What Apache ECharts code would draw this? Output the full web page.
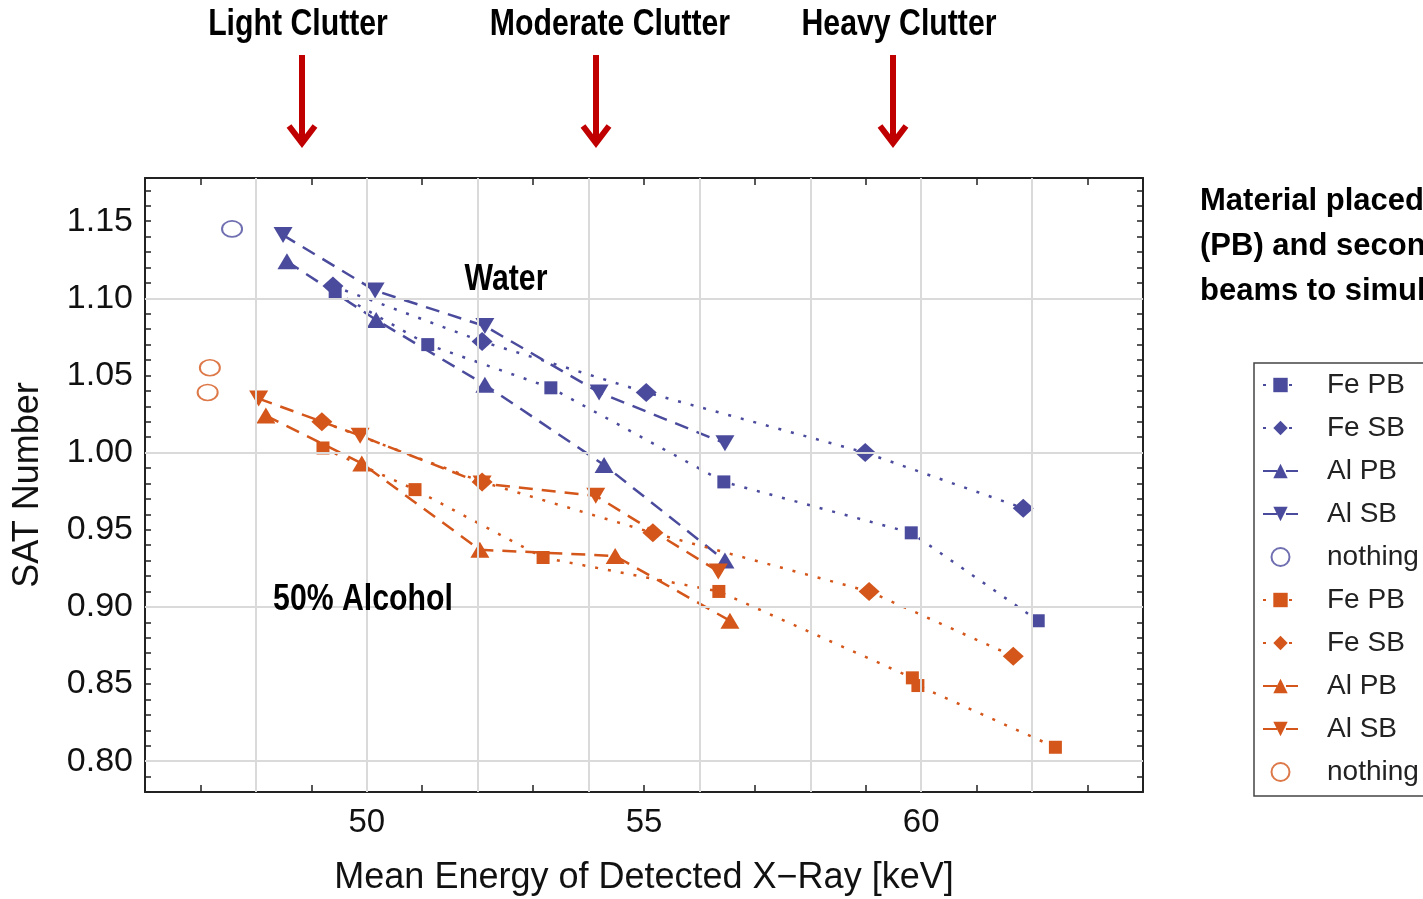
<!DOCTYPE html>
<html><head><meta charset="utf-8">
<script src="https://cdn.jsdelivr.net/npm/echarts@6/dist/echarts.min.js"></script>
<style>html,body{margin:0;padding:0;background:#fff}#c{width:1423px;height:899px}</style>
</head><body><div id="c"></div>
<script>
// ---- data ----
const wFePB_x = [49.43, 51.10, 53.32, 56.44, 59.82, 62.11];
const wFePB_y = [1.104, 1.070, 1.042, 0.981, 0.948, 0.891];
const wFeSB_x = [49.39, 52.08, 55.04, 58.99, 61.84];
const wFeSB_y = [1.108, 1.072, 1.039, 1.000, 0.964];
const wAlPB_x = [48.56, 50.17, 52.13, 54.28, 56.46];
const wAlPB_y = [1.124, 1.086, 1.044, 0.992, 0.930];
const wAlSB_x = [48.49, 50.15, 52.13, 54.19, 56.46];
const wAlSB_y = [1.141, 1.105, 1.082, 1.039, 1.006];
const wNone_x = [47.57];
const wNone_y = [1.145];
const aFePB_x = [49.21, 50.87, 53.18, 56.35, 59.84, 59.94, 62.42];
const aFePB_y = [1.003, 0.976, 0.932, 0.910, 0.854, 0.849, 0.809];
const aFeSB_x = [49.19, 52.08, 55.16, 59.06, 61.66];
const aFeSB_y = [1.020, 0.981, 0.948, 0.910, 0.868];
const aAlPB_x = [48.18, 49.91, 52.04, 54.48, 56.55];
const aAlPB_y = [1.024, 0.993, 0.937, 0.933, 0.891];
const aAlSB_x = [48.05, 49.88, 52.08, 54.13, 56.34];
const aAlSB_y = [1.035, 1.011, 0.980, 0.972, 0.923];
const aNone_x = [47.17, 47.13];
const aNone_y = [1.055, 1.039];

const xLabels = [50, 55, 60];
const yLabels = ['0.80', '0.85', '0.90', '0.95', '1.00', '1.05', '1.10', '1.15'];
const gridX = [48, 50, 52, 54, 56, 58, 60, 62];
const gridY = [0.8, 0.9, 1.0, 1.1];
const legendNames = ['Fe PB', 'Fe SB', 'Al PB', 'Al SB', 'nothing'];
const clutterLabels = ['Light Clutter', 'Moderate Clutter', 'Heavy Clutter'];
const sideText = ['Material placed', '(PB) and secon', 'beams to simul'];

// ---- styles ----
const BLUE = '#4b4b9d', ORANGE = '#d4561a';
const Z = '\u200b';
const pairs = (xs, ys) => xs.map((v, i) => [v, ys[i]]);
const dotted = [3, 10], dashed = [14, 9];
const SQ = 13, DIA = [21, 19], TRI = [19, 16];

function lineSeries(name, xs, ys, color, symbol, size, dash, rot) {
  return {
    type: 'line', name, data: pairs(xs, ys), z: 3,
    symbol, symbolSize: size, symbolRotate: rot || 0, showSymbol: true,
    itemStyle: { color }, lineStyle: { color, width: 2.5, type: dash },
    animation: false
  };
}
function circSeries(name, xs, ys, color) {
  return {
    type: 'scatter', name, data: pairs(xs, ys), z: 3,
    symbol: 'circle', symbolSize: [20, 16],
    itemStyle: { color: '#fff', borderColor: color, borderWidth: 1.8 },
    animation: false
  };
}

const series = [
  lineSeries('Fe PB', wFePB_x, wFePB_y, BLUE, 'rect', SQ, dotted),
  lineSeries('Fe SB', wFeSB_x, wFeSB_y, BLUE, 'diamond', DIA, dotted),
  lineSeries('Al PB', wAlPB_x, wAlPB_y, BLUE, 'triangle', TRI, dashed),
  lineSeries('Al SB', wAlSB_x, wAlSB_y, BLUE, 'triangle', TRI, dashed, 180),
  circSeries('nothing', wNone_x, wNone_y, BLUE),
  lineSeries('Fe PB' + Z, aFePB_x, aFePB_y, ORANGE, 'rect', SQ, dotted),
  lineSeries('Fe SB' + Z, aFeSB_x, aFeSB_y, ORANGE, 'diamond', DIA, dotted),
  lineSeries('Al PB' + Z, aAlPB_x, aAlPB_y, ORANGE, 'triangle', TRI, dashed),
  lineSeries('Al SB' + Z, aAlSB_x, aAlSB_y, ORANGE, 'triangle', TRI, dashed, 180),
  circSeries('nothing' + Z, aNone_x, aNone_y, ORANGE),
  {
    type: 'line', name: 'grid', data: [], z: 1, silent: true, animation: false,
    markLine: {
      silent: true, symbol: 'none', animation: false, label: { show: false },
      lineStyle: { color: '#dadada', width: 2, type: 'solid' },
      data: gridX.map(v => ({ xAxis: v })).concat(gridY.map(v => ({ yAxis: v })))
    }
  }
];

const FRAME = '#222';
const baseX = {
  type: 'value', min: 46, max: 64, interval: 1,
  axisLine: { show: true, onZero: false, lineStyle: { color: FRAME, width: 2 } },
  axisTick: { show: true, inside: true, length: 7, lineStyle: { color: FRAME, width: 1.5 } },
  splitLine: { show: false }
};
const baseY = {
  type: 'value', min: 0.78, max: 1.178, interval: 0.01,
  axisLine: { show: true, onZero: false, lineStyle: { color: FRAME, width: 2 } },
  axisTick: { show: true, inside: true, length: 6, lineStyle: { color: FRAME, width: 1.5 } },
  splitLine: { show: false }
};

const NARROW = 'bold 36px "Liberation Sans", Arial, sans-serif';
function narrowText(t, cx, cy) {
  return { type: 'text', x: cx, y: cy, scaleX: 0.84, z: 10,
    style: { text: t, x: 0, y: 0, align: 'center', verticalAlign: 'middle', font: NARROW, fill: '#000' } };
}
const graphic = [];
const arrowX = [302, 596, 893];
const labelX = [298, 610, 899];
clutterLabels.forEach((t, i) => {
  graphic.push(narrowText(t, labelX[i], 25));
  graphic.push({ type: 'line', shape: { x1: arrowX[i], y1: 55, x2: arrowX[i], y2: 143 },
    style: { stroke: '#c00000', lineWidth: 6 } });
  graphic.push({ type: 'polyline', shape: { points: [[arrowX[i] - 13, 126], [arrowX[i], 143], [arrowX[i] + 13, 126]] },
    style: { stroke: '#c00000', lineWidth: 6, fill: null, lineJoin: 'miter' } });
});
graphic.push(narrowText('Water', 506, 280));
graphic.push(narrowText('50% Alcohol', 363, 600));
sideText.forEach((t, i) => {
  graphic.push({ type: 'text', style: { text: t, x: 1200, y: 201 + 45 * i, align: 'left', verticalAlign: 'middle',
    font: 'bold 31px "Liberation Sans", Arial, sans-serif', fill: '#000' } });
});

const chart = echarts.init(document.getElementById('c'), null, { renderer: 'canvas' });
chart.setOption({
  backgroundColor: '#fff',
  animation: false,
  textStyle: { fontFamily: '"Liberation Sans", Arial, sans-serif' },
  grid: { left: 145, right: 280, top: 178, bottom: 107, containLabel: false, outerBoundsMode: 'none' },
  xAxis: [
    Object.assign({}, baseX, {
      position: 'bottom',
      name: 'Mean Energy of Detected X\u2212Ray [keV]', nameLocation: 'middle', nameGap: 68,
      nameTextStyle: { fontSize: 36, color: '#111', fontFamily: '"Liberation Sans", Arial, sans-serif' },
      axisLabel: { show: true, margin: 14, fontSize: 33, color: '#111',
        formatter: v => (xLabels.indexOf(Math.round(v)) >= 0 && Math.abs(v - Math.round(v)) < 1e-6) ? String(Math.round(v)) : '' }
    }),
    Object.assign({}, baseX, { position: 'top', axisLabel: { show: false } })
  ],
  yAxis: [
    Object.assign({}, baseY, {
      position: 'left',
      name: 'SAT Number', nameLocation: 'middle', nameGap: 99, nameRotate: 90,
      nameTextStyle: { fontSize: 36, color: '#111', fontFamily: '"Liberation Sans", Arial, sans-serif' },
      axisLabel: { show: true, margin: 12, fontSize: 34, color: '#111',
        formatter: v => { const s = v.toFixed(2); return yLabels.indexOf(s) >= 0 && Math.abs(v - parseFloat(s)) < 1e-6 ? s : ''; } }
    }),
    Object.assign({}, baseY, { position: 'right', axisLabel: { show: false } })
  ],
  legend: {
    show: true, orient: 'vertical', left: 1254, top: 363,
    data: legendNames.concat(legendNames.map(n => n + Z)),
    itemWidth: 35, itemHeight: 18, itemGap: 15,
    padding: [8, 20, 10, 8],
    borderColor: '#444', borderWidth: 1.5, backgroundColor: '#fff',
    textStyle: { fontSize: 28, color: '#222', lineHeight: 28, padding: [0, 0, 0, 24],
      fontFamily: '"Liberation Sans", Arial, sans-serif' },
    selectedMode: false
  },
  series,
  graphic
});
</script></body></html>
